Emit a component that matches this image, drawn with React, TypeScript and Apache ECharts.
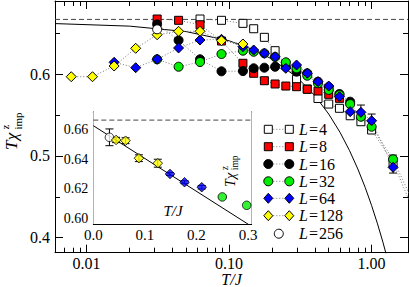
import React, { useEffect, useRef } from "react";
import * as echarts from "echarts";

const FONT = "'Liberation Serif', 'Times New Roman', serif";

// temperatures T/J shared by the main-panel data
const temps = [0.0078, 0.011, 0.0156, 0.0221, 0.03125, 0.0442, 0.0625, 0.0884, 0.125, 0.1487, 0.1768, 0.2102, 0.25, 0.2973, 0.3536, 0.4204, 0.5, 0.5946, 0.7071, 0.8409, 1.0, 1.4142, 2.0];

const sizes = [4, 8, 16, 32, 64, 128, 256];

const L4 = [null, null, null, null, null, null, 0.6672, 0.6656, 0.6619, 0.6553, 0.6448, 0.6285, 0.611, 0.5935, 0.5817, 0.5701, 0.5633, 0.5581, 0.549, 0.5417, 0.5316, 0.492, 0.43];
const L8 = [null, null, null, null, 0.6672, 0.6656, 0.6602, 0.6403, 0.6131, 0.6009, 0.5918, 0.5878, 0.5853, 0.5845, 0.5813, 0.5792, 0.5752, 0.5703, null, null, null, null, null];
const L16 = [null, null, null, null, 0.6607, 0.6412, 0.618, 0.6033, 0.6036, 0.607, 0.6077, 0.6089, 0.6086, 0.6028, 0.6009, 0.5906, 0.5841, 0.5756, 0.5662, null, null, null, null];
const L32 = [null, null, null, null, 0.618, 0.6089, 0.6147, 0.6244, 0.6285, 0.6272, 0.6253, 0.6208, 0.6143, 0.607, 0.5979, 0.5886, 0.5805, 0.5743, 0.5633, 0.5478, 0.5356, 0.4958, 0.44];
const L64 = [null, null, 0.6143, 0.6077, 0.618, 0.6318, 0.6415, 0.6424, 0.6334, 0.6293, 0.6253, 0.6211, 0.607, 0.611, 0.6009, 0.5906, 0.5853, 0.5723, 0.554, 0.5532, 0.5429, 0.486, null];
const L128 = [0.5967, 0.5967, 0.6098, 0.6314, 0.648, 0.6522, 0.6522, 0.6407, 0.6367, null, null, null, null, null, null, null, null, null, null, null, null, null, null];
const L256 = [null, null, null, null, 0.6546, null, null, null, null, null, null, null, null, null, null, null, null, null, null, null, null, null, null];

// error bars in main panel (L=64)
const mainErrT = [0.8409, 1.0, 1.4142];
const mainErrLo = [0.5443, 0.5347, 0.479];
const mainErrHi = [0.5621, 0.5511, 0.501];

// linear fit drawn in both panels
const fitT = [0.006, 0.02, 0.05, 0.1, 0.15, 0.2, 0.3, 0.4, 0.5, 0.6, 0.7, 0.8, 0.9, 1.0, 1.1, 1.2, 1.3];
const fitV = [0.6616, 0.6585, 0.6518, 0.6406, 0.6294, 0.6182, 0.5959, 0.5735, 0.5511, 0.5288, 0.5064, 0.484, 0.4617, 0.4393, 0.4169, 0.3946, 0.3722];
const insetFitT = [0, 0.3125];
const insetFitV = [0.6629, 0.5932];

const curie = 0.6667;

// inset data
const in256T = [0.03125];
const in256V = [0.655];
const in256E = [0.0057];
const in128T = [0.0442, 0.0625, 0.0884, 0.125];
const in128V = [0.6532, 0.6527, 0.6408, 0.6374];
const in128E = [0.0018, 0.002, 0.0023, 0.0027];
const in64T = [0.1487, 0.1768, 0.2102];
const in64V = [0.6301, 0.6245, 0.6211];
const in64E = [0.001, 0.001, 0.0012];
const in32T = [0.25, 0.2973];
const in32V = [0.6145, 0.6088];

// ticks
const mainXMajor = [0.01, 0.1, 1];
const mainXMinor = [0.007, 0.008, 0.009, 0.02, 0.03, 0.04, 0.05, 0.06, 0.07, 0.08, 0.09, 0.2, 0.3, 0.4, 0.5, 0.6, 0.7, 0.8, 0.9];
const mainYMajor = [0.4, 0.5, 0.6];
const mainYMinor = [0.45, 0.55, 0.65];
const inXMajor = [0, 0.1, 0.2, 0.3];
const inXMinor = [0.05, 0.15, 0.25];
const inYMajor = [0.6, 0.62, 0.64, 0.66];
const inYMinor = [0.61, 0.63, 0.65, 0.67];

const styles = [
  { symbol: "rect", size: 8, color: "#ffffff" },
  { symbol: "rect", size: 8, color: "#ff0000" },
  { symbol: "circle", size: 9, color: "#000000" },
  { symbol: "circle", size: 9, color: "#00ee00" },
  { symbol: "diamond", size: 10, color: "#0000ff" },
  { symbol: "diamond", size: 10, color: "#ffff00" },
  { symbol: "circle", size: 9, color: "#ffffff" },
];

const seriesVals = [L4, L8, L16, L32, L64, L128, L256];

function mkAxis(o: any) {
  return {
    type: o.type,
    gridIndex: o.grid,
    position: o.pos,
    min: o.min,
    max: o.max,
    axisLine: { show: !!o.line, onZero: false, lineStyle: { color: "#000", width: 1 } },
    axisTick: { show: true, inside: true, length: o.len, customValues: o.ticks, lineStyle: { color: "#000", width: 1 } },
    axisLabel: o.labels
      ? { show: true, customValues: o.labels, formatter: o.fmt, color: "#000", fontFamily: FONT, fontSize: o.fs, margin: o.margin }
      : { show: false },
    splitLine: { show: false },
    minorTick: { show: false },
    minorSplitLine: { show: false },
    axisPointer: { show: false },
    name: o.name,
    nameLocation: "middle",
    nameGap: o.nameGap,
    nameMoveOverlap: false,
    nameTextStyle: { fontFamily: FONT, fontStyle: "italic", fontSize: 16, color: "#000" },
  };
}

const errRender = (params: any, api: any) => {
  const x = api.value(0);
  const p1 = api.coord([x, api.value(1)]);
  const p2 = api.coord([x, api.value(2)]);
  const w = 4;
  const st = { stroke: "#000", lineWidth: 1 };
  return {
    type: "group",
    children: [
      { type: "line", shape: { x1: p1[0], y1: p1[1], x2: p2[0], y2: p2[1] }, style: st },
      { type: "line", shape: { x1: p1[0] - w, y1: p1[1], x2: p1[0] + w, y2: p1[1] }, style: st },
      { type: "line", shape: { x1: p2[0] - w, y1: p2[1], x2: p2[0] + w, y2: p2[1] }, style: st },
    ],
  };
};

function legendGraphics() {
  const rowsY = [129.3, 146.7, 164, 181.3, 198.3, 215.7, 233.7];
  const x1 = 268.3, x2 = 289.3, tx = 299;
  const els: any[] = [];
  const sym = (s: any, cx: number, cy: number) => {
    const style = { fill: s.color, stroke: "#000", lineWidth: 1 };
    if (s.symbol === "rect") return { type: "rect", z: 100, shape: { x: cx - 4, y: cy - 4, width: 8, height: 8 }, style };
    if (s.symbol === "circle") return { type: "circle", z: 100, shape: { cx, cy, r: 4.5 }, style };
    return { type: "polygon", z: 100, shape: { points: [[cx, cy - 5], [cx + 4.5, cy], [cx, cy + 5], [cx - 4.5, cy]] }, style };
  };
  sizes.forEach((L, i) => {
    const cy = rowsY[i];
    const s = styles[i];
    if (i < 6) {
      els.push({ type: "line", z: 100, shape: { x1: x1 + 5, y1: cy, x2: x2 - 5, y2: cy }, style: { stroke: "#777", lineWidth: 1, lineDash: [1, 2] } });
      els.push(sym(s, x1, cy));
      els.push(sym(s, x2, cy));
    } else {
      els.push(sym(s, (x1 + x2) / 2, cy));
    }
    els.push({
      type: "text",
      z: 100,
      x: tx,
      y: cy,
      style: {
        text: "{i|L}{e|=}" + L,
        rich: {
          i: { fontStyle: "italic", fontFamily: FONT, fontSize: 16, lineHeight: 14, fill: "#000" },
          e: { fontFamily: FONT, fontSize: 16, lineHeight: 14, fill: "#000", padding: [0, 1, 0, 1] },
        },
        fontFamily: FONT,
        fontSize: 16,
        lineHeight: 14,
        fill: "#000",
        verticalAlign: "middle",
        align: "left",
      },
    });
  });
  return els;
}

function yName(x: number, y: number, fs: number, sub: number) {
  const base = { fontFamily: FONT, fill: "#000", verticalAlign: "middle", align: "left" };
  return {
    type: "group",
    x,
    y,
    z: 100,
    rotation: Math.PI / 2,
    children: [
      { type: "text", z: 100, x: 0, y: 0, style: { ...base, text: "T", fontStyle: "italic", fontSize: fs } },
      { type: "text", z: 100, x: fs * 0.58, y: 0, style: { ...base, text: "χ", fontStyle: "italic", fontSize: fs } },
      { type: "text", z: 100, x: fs * 1.2, y: -fs * 0.38, style: { ...base, text: "z", fontSize: sub } },
      { type: "text", z: 100, x: fs * 1.2, y: fs * 0.36, style: { ...base, text: "imp", fontSize: sub } },
    ],
  };
}

export default function App() {
  const ref = useRef<HTMLDivElement>(null);
  useEffect(() => {
    const chart = echarts.init(ref.current!, null, { renderer: "svg" });

    const mainSeries: any[] = seriesVals.map((vals, i) => ({
      type: "line",
      name: "L=" + sizes[i],
      xAxisIndex: 0,
      yAxisIndex: 0,
      data: temps.map((t, k) => (vals[k] == null ? null : [t, vals[k]])).filter((d) => d !== null),
      symbol: styles[i].symbol,
      symbolSize: styles[i].size,
      showSymbol: true,
      showAllSymbol: true,
      lineStyle: { color: "#777", width: 1, type: [1, 2] },
      itemStyle: { color: styles[i].color, borderColor: "#000", borderWidth: 1 },
      emphasis: { disabled: true },
      z: 3,
    }));

    const option: any = {
      animation: false,
      backgroundColor: "#fff",
      grid: [
        { left: 55, top: 1, right: 1, bottom: 34.3, containLabel: false, outerBoundsMode: "none", show: false },
        { left: 93.3, top: 112, right: 157.3, bottom: 63, containLabel: false, outerBoundsMode: "none", show: true, backgroundColor: "#fff", borderWidth: 0, z: 5 },
      ],
      xAxis: [
        mkAxis({ type: "log", grid: 0, pos: "bottom", min: 0.006, max: 1.8, line: true, len: 8, ticks: mainXMajor, labels: mainXMajor, fmt: (v: number) => v.toFixed(2), fs: 16, margin: 3, name: "T/J", nameGap: 19 }),
        mkAxis({ type: "log", grid: 0, pos: "bottom", min: 0.006, max: 1.8, len: 5, ticks: mainXMinor }),
        mkAxis({ type: "log", grid: 0, pos: "top", min: 0.006, max: 1.8, line: true, len: 8, ticks: mainXMajor }),
        mkAxis({ type: "log", grid: 0, pos: "top", min: 0.006, max: 1.8, len: 5, ticks: mainXMinor }),
        mkAxis({ type: "value", grid: 1, pos: "bottom", min: 0, max: 0.307, line: true, len: 6, ticks: inXMajor, labels: inXMajor, fmt: (v: number) => v.toFixed(1), fs: 15, margin: 3 }),
        mkAxis({ type: "value", grid: 1, pos: "bottom", min: 0, max: 0.307, len: 3.5, ticks: inXMinor }),
        mkAxis({ type: "value", grid: 1, pos: "top", min: 0, max: 0.307, line: true, len: 6, ticks: inXMajor }),
        mkAxis({ type: "value", grid: 1, pos: "top", min: 0, max: 0.307, len: 3.5, ticks: inXMinor }),
      ],
      yAxis: [
        mkAxis({ type: "value", grid: 0, pos: "left", min: 0.3817, max: 0.6892, line: true, len: 8, ticks: mainYMajor, labels: mainYMajor, fmt: (v: number) => v.toFixed(1), fs: 16, margin: 5 }),
        mkAxis({ type: "value", grid: 0, pos: "left", min: 0.3817, max: 0.6892, len: 5, ticks: mainYMinor }),
        mkAxis({ type: "value", grid: 0, pos: "right", min: 0.3817, max: 0.6892, line: true, len: 8, ticks: mainYMajor }),
        mkAxis({ type: "value", grid: 0, pos: "right", min: 0.3817, max: 0.6892, len: 5, ticks: mainYMinor }),
        mkAxis({ type: "value", grid: 1, pos: "left", min: 0.5961, max: 0.6722, line: true, len: 7, ticks: inYMajor, labels: inYMajor, fmt: (v: number) => v.toFixed(2), fs: 14, margin: 5 }),
        mkAxis({ type: "value", grid: 1, pos: "left", min: 0.5961, max: 0.6722, len: 4, ticks: inYMinor }),
        mkAxis({ type: "value", grid: 1, pos: "right", min: 0.5961, max: 0.6722, line: true, len: 7, ticks: inYMajor }),
        mkAxis({ type: "value", grid: 1, pos: "right", min: 0.5961, max: 0.6722, len: 4, ticks: inYMinor }),
      ],
      series: [
        {
          type: "line", xAxisIndex: 0, yAxisIndex: 0, symbol: "none", z: 1,
          data: [[0.006, curie], [1.8, curie]],
          lineStyle: { color: "#444", width: 1, type: [5, 3] },
        },
        {
          type: "line", xAxisIndex: 0, yAxisIndex: 0, symbol: "none", z: 1,
          data: fitT.map((t, i) => [t, fitV[i]]),
          lineStyle: { color: "#000", width: 1 },
        },
        {
          type: "custom", xAxisIndex: 0, yAxisIndex: 0, z: 2,
          renderItem: errRender,
          encode: { x: 0, y: [1, 2] },
          data: mainErrT.map((t, i) => [t, mainErrLo[i], mainErrHi[i]]),
        },
        ...mainSeries,
        // inset
        {
          type: "line", xAxisIndex: 4, yAxisIndex: 4, symbol: "none", z: 6,
          data: [[0, curie], [0.307, curie]],
          lineStyle: { color: "#444", width: 1, type: [5, 3] },
        },
        {
          type: "line", xAxisIndex: 4, yAxisIndex: 4, symbol: "none", z: 6,
          data: insetFitT.map((t, i) => [t, insetFitV[i]]),
          lineStyle: { color: "#000", width: 1 },
        },
        {
          type: "custom", xAxisIndex: 4, yAxisIndex: 4, z: 6,
          renderItem: errRender,
          encode: { x: 0, y: [1, 2] },
          data: [
            ...in256T.map((t, i) => [t, in256V[i] - in256E[i], in256V[i] + in256E[i]]),
            ...in128T.map((t, i) => [t, in128V[i] - in128E[i], in128V[i] + in128E[i]]),
            ...in64T.map((t, i) => [t, in64V[i] - in64E[i], in64V[i] + in64E[i]]),
          ],
        },
        {
          type: "scatter", xAxisIndex: 4, yAxisIndex: 4, z: 7, symbol: "circle", symbolSize: 8.5,
          itemStyle: { color: "#fff", borderColor: "#000", borderWidth: 1 },
          data: in256T.map((t, i) => [t, in256V[i]]),
        },
        {
          type: "scatter", xAxisIndex: 4, yAxisIndex: 4, z: 7, symbol: "diamond", symbolSize: 9.5,
          itemStyle: { color: "#ffff00", borderColor: "#000", borderWidth: 1 },
          data: in128T.map((t, i) => [t, in128V[i]]),
        },
        {
          type: "scatter", xAxisIndex: 4, yAxisIndex: 4, z: 7, symbol: "diamond", symbolSize: 9.5,
          itemStyle: { color: "#0000ff", borderColor: "#000", borderWidth: 1 },
          data: in64T.map((t, i) => [t, in64V[i]]),
        },
        {
          type: "scatter", xAxisIndex: 4, yAxisIndex: 4, z: 7, symbol: "circle", symbolSize: 8.5,
          itemStyle: { color: "#00ee00", borderColor: "#000", borderWidth: 1 },
          data: in32T.map((t, i) => [t, in32V[i]]),
        },
      ],
      graphic: [
        ...legendGraphics(),
        yName(11.5, 150, 17, 11),
        yName(230, 187, 14, 9.5),
        {
          type: "text", x: 173, y: 211, z: 100,
          style: { text: "T/J", fontFamily: FONT, fontStyle: "italic", fontSize: 15, fill: "#000", align: "center", verticalAlign: "middle" },
        },
      ],
    };
    chart.setOption(option);
    return () => chart.dispose();
  }, []);
  return <div ref={ref} style={{ position: "fixed", left: 0, top: 0, width: 409, height: 287, background: "#fff" }} />;
}
